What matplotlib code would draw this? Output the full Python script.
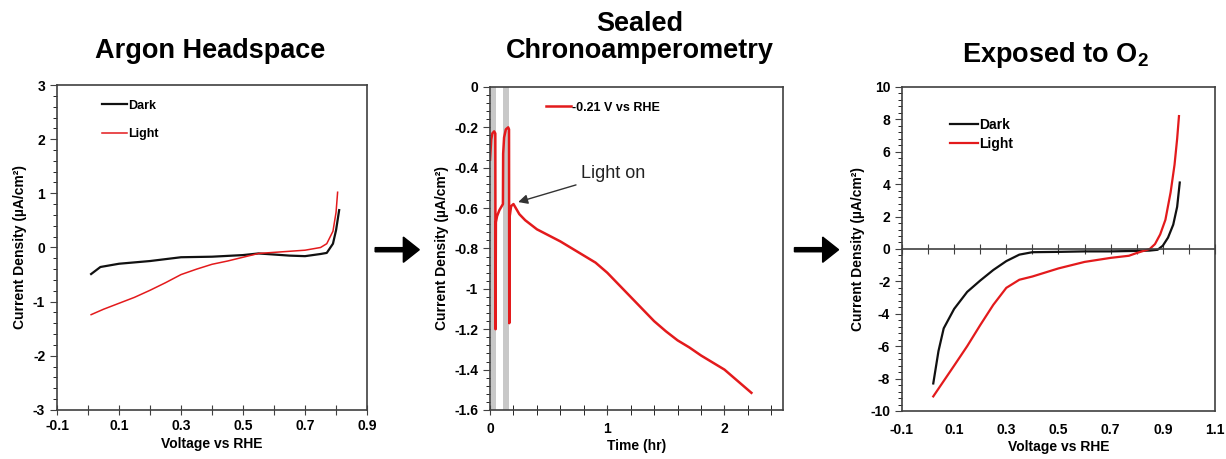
import matplotlib
matplotlib.use("Agg")
import matplotlib.pyplot as plt
from matplotlib.ticker import FuncFormatter, AutoMinorLocator

plt.rcParams['font.family'] = ['Liberation Sans', 'DejaVu Sans']
plt.rcParams['font.weight'] = 'bold'
plt.rcParams['axes.unicode_minus'] = False
plt.rcParams['mathtext.fontset'] = 'custom'
plt.rcParams['mathtext.bf'] = 'Liberation Sans:bold'
plt.rcParams['mathtext.rm'] = 'Liberation Sans'

RED = '#e31a1c'
BLACK = '#111111'
FRAME = '#404040'

# --- Argon headspace (left)
v_dark1 = [0.01, 0.04, 0.1, 0.2, 0.3, 0.4, 0.5, 0.55, 0.6, 0.65, 0.7, 0.75, 0.77, 0.79, 0.80, 0.81]
j_dark1 = [-0.49, -0.36, -0.3, -0.25, -0.18, -0.17, -0.14, -0.11, -0.13, -0.15, -0.16, -0.12, -0.1, 0.07, 0.32, 0.69]
v_light1 = [0.01, 0.05, 0.1, 0.15, 0.2, 0.25, 0.3, 0.35, 0.4, 0.45, 0.5, 0.55, 0.6, 0.7, 0.75, 0.77, 0.79, 0.80, 0.805]
j_light1 = [-1.24, -1.14, -1.03, -0.92, -0.79, -0.65, -0.5, -0.4, -0.31, -0.25, -0.18, -0.11, -0.09, -0.05, 0.0, 0.07, 0.3, 0.65, 1.02]

# --- Sealed chronoamperometry (middle)
t_hr = [0.0, 0.01, 0.02, 0.035, 0.045, 0.047, 0.05, 0.06, 0.08, 0.1, 0.11, 0.112, 0.12, 0.135, 0.155,
        0.162, 0.164, 0.168, 0.18, 0.2, 0.22, 0.25, 0.3, 0.4, 0.5, 0.6, 0.7, 0.8, 0.9, 1.0, 1.1, 1.2,
        1.3, 1.4, 1.5, 1.6, 1.7, 1.8, 1.9, 2.0, 2.1, 2.2, 2.23]
j_ca = [-0.36, -0.26, -0.23, -0.22, -0.23, -1.2, -0.67, -0.64, -0.61, -0.59, -0.58, -0.33, -0.25, -0.21, -0.2,
        -0.21, -1.17, -0.64, -0.59, -0.58, -0.6, -0.63, -0.66, -0.705, -0.735, -0.765, -0.8, -0.835, -0.87, -0.92, -0.98, -1.04,
        -1.1, -1.16, -1.21, -1.255, -1.29, -1.33, -1.365, -1.40, -1.45, -1.50, -1.515]
dark_bands = [(0.005, 0.048), (0.108, 0.165)]

# --- Exposed to O2 (right)
v_dark3 = [0.02, 0.03, 0.04, 0.06, 0.1, 0.15, 0.2, 0.25, 0.3, 0.35, 0.4, 0.5, 0.6, 0.7, 0.8, 0.85, 0.88, 0.9, 0.92, 0.94, 0.955, 0.965]
j_dark3 = [-8.3, -7.3, -6.3, -4.9, -3.7, -2.65, -1.95, -1.3, -0.75, -0.35, -0.2, -0.18, -0.15, -0.15, -0.12, -0.1, -0.05, 0.2, 0.7, 1.5, 2.6, 4.1]
v_light3 = [0.02, 0.1, 0.15, 0.2, 0.25, 0.3, 0.35, 0.4, 0.5, 0.6, 0.7, 0.77, 0.8, 0.83, 0.85, 0.87, 0.89, 0.91, 0.93, 0.945, 0.955, 0.962]
j_light3 = [-9.1, -7.2, -6.0, -4.7, -3.45, -2.4, -1.9, -1.7, -1.2, -0.8, -0.55, -0.42, -0.25, -0.1, 0.0, 0.3, 0.9, 1.8, 3.5, 5.2, 6.8, 8.2]

v_ticks1 = [-0.1, 0.0, 0.1, 0.2, 0.3, 0.4, 0.5, 0.6, 0.7, 0.8, 0.9]
v_ticks3 = [-0.1, 0.0, 0.1, 0.2, 0.3, 0.4, 0.5, 0.6, 0.7, 0.8, 0.9, 1.0, 1.1]
v_labels1 = ['-0.1', '', '0.1', '', '0.3', '', '0.5', '', '0.7', '', '0.9']
v_labels3 = ['-0.1', '', '0.1', '', '0.3', '', '0.5', '', '0.7', '', '0.9', '', '1.1']
j_ticks3 = [-10, -8, -6, -4, -2, 0, 2, 4, 6, 8, 10]

ylab = 'Current Density (µA/cm²)'
fmt = FuncFormatter(lambda v, p: f'{v:g}')

fig = plt.figure(figsize=(12.26, 4.59), dpi=100)
ax1 = fig.add_axes([0.0465, 0.1068, 0.2529, 0.708])
ax2 = fig.add_axes([0.3997, 0.1068, 0.239, 0.7037])
ax3 = fig.add_axes([0.7357, 0.1046, 0.2553, 0.706])


def style(ax):
    for s in ax.spines.values():
        s.set_color(FRAME)
        s.set_linewidth(1.2)
    ax.tick_params(axis='both', labelsize=10, colors=FRAME, labelcolor='black')
    ax.tick_params(axis='y', which='major', direction='out', length=5)
    ax.tick_params(axis='y', which='minor', direction='out', length=3)
    ax.tick_params(axis='x', which='both', direction='inout', length=7, pad=3)
    ax.yaxis.set_minor_locator(AutoMinorLocator(5))
    ax.yaxis.set_major_formatter(fmt)
    ax.set_ylabel(ylab, fontsize=10, fontweight='bold')


# left panel
style(ax1)
ax1.plot(v_dark1, j_dark1, color=BLACK, lw=1.6, label='Dark')
ax1.plot(v_light1, j_light1, color=RED, lw=1.1, label='Light')
ax1.set_xlim(-0.1, 0.9)
ax1.set_ylim(-3, 3)
ax1.set_xticks(v_ticks1)
ax1.set_xticklabels(v_labels1)
ax1.set_xlabel('Voltage vs RHE', fontsize=10, fontweight='bold', labelpad=3)
ax1.legend(loc='upper left', bbox_to_anchor=(0.145, 0.955), frameon=False, borderpad=0,
           borderaxespad=0, handlelength=2.0, handletextpad=0.1, labelspacing=1.3,
           prop={'size': 9, 'weight': 'bold'})

# middle panel
style(ax2)
for a, b in dark_bands:
    ax2.axvspan(a, b, color='#c8c8c8', lw=0, zorder=0)
ax2.plot(t_hr, j_ca, color=RED, lw=1.8, label='-0.21 V vs RHE')
ax2.set_xlim(0, 2.5)
ax2.set_ylim(-1.6, 0)
ax2.set_xticks([0, 1, 2])
ax2.xaxis.set_minor_locator(AutoMinorLocator(5))
ax2.xaxis.set_major_formatter(fmt)
ax2.tick_params(axis='x', pad=5)
ax2.set_xlabel('Time (hr)', fontsize=10, fontweight='bold', labelpad=2)
ax2.legend(loc='upper left', bbox_to_anchor=(0.19, 0.955), frameon=False, borderpad=0,
           borderaxespad=0, handlelength=2.0, handletextpad=0.1,
           prop={'size': 9, 'weight': 'bold'})
ax2.annotate('Light on', xy=(0.24, -0.57), xytext=(0.78, -0.43), fontsize=13,
             fontweight='normal', va='center', color='#222222',
             arrowprops=dict(arrowstyle='-|>', color='#333333', lw=1, mutation_scale=14,
                             shrinkA=2, shrinkB=0))

# right panel
style(ax3)
ax3.plot(v_dark3, j_dark3, color=BLACK, lw=1.6, label='Dark')
ax3.plot(v_light3, j_light3, color=RED, lw=1.6, label='Light')
ax3.set_xlim(-0.1, 1.1)
ax3.set_ylim(-10, 10)
ax3.set_yticks(j_ticks3)
ax3.spines['bottom'].set_position(('data', 0))
ax3.set_xticks(v_ticks3)
ax3.tick_params(axis='x', labelbottom=False)
sec = ax3.secondary_xaxis(0)
sec.set_xticks(v_ticks3)
sec.set_xticklabels(v_labels3)
sec.tick_params(length=0, labelsize=10, pad=9)
sec.spines['bottom'].set_color(FRAME)
sec.spines['bottom'].set_linewidth(1.2)
sec.set_xlabel('Voltage vs RHE', fontsize=10, fontweight='bold', labelpad=2)
ax3.legend(loc='upper left', bbox_to_anchor=(0.153, 0.905), frameon=False, borderpad=0,
           borderaxespad=0, handlelength=2.0, handletextpad=0.1, labelspacing=0.35,
           prop={'size': 10, 'weight': 'bold'})

# titles
fig.text(0.171, 0.873, 'Argon Headspace', ha='center', fontsize=19.5, fontweight='bold')
fig.text(0.522, 0.873, 'Sealed\nChronoamperometry', ha='center', fontsize=19.5,
         fontweight='bold', linespacing=1.08)
fig.text(0.861, 0.865, 'Exposed to O$_\\mathbf{2}$', ha='center', fontsize=19.5, fontweight='bold')

# arrows between the panels
for x0 in (0.306, 0.648):
    fig.patches.append(matplotlib.patches.FancyArrow(
        x0, 0.456, 0.036, 0, width=0.009, head_width=0.055, head_length=0.013,
        length_includes_head=True, color='black', transform=fig.transFigure, figure=fig))

fig.savefig('out.png', dpi=100)
